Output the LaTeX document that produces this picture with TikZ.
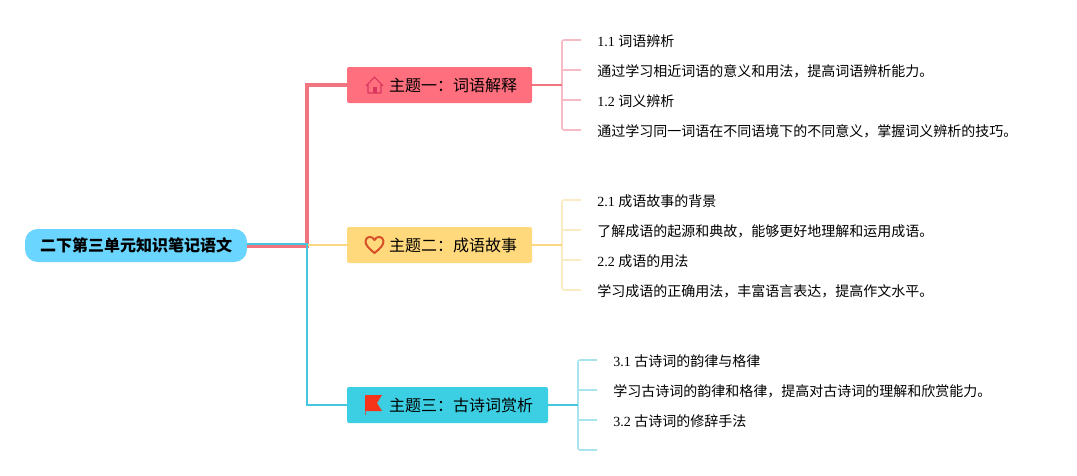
\documentclass[tikz,border=0pt]{standalone}
\usepackage{fontspec}
\setmainfont{Liberation Serif}
\newfontfamily\cjk{Noto Sans CJK SC}
\usetikzlibrary{positioning}
\definecolor{root_fill}{HTML}{6AD5FF}
\definecolor{one_fill}{HTML}{FF6F7D}
\definecolor{one_line}{HTML}{F0757F}
\definecolor{one_soft}{HTML}{F5BAC3}
\definecolor{one_icon}{HTML}{D8355F}
\definecolor{two_fill}{HTML}{FFD97C}
\definecolor{two_line}{HTML}{FBD784}
\definecolor{two_soft}{HTML}{FBEBC4}
\definecolor{two_icon}{HTML}{D8502A}
\definecolor{three_fill}{HTML}{3CCFE3}
\definecolor{three_line}{HTML}{45C5DE}
\definecolor{three_soft}{HTML}{A8E4EE}
\definecolor{three_icon}{HTML}{F5341A}
\definecolor{three_stem}{HTML}{B8605A}
\tikzset{
        % Centre of the map
        node_root/.style={align=center, rounded corners=9.5pt, fill=root_fill, minimum width=166.5pt, minimum height=24.75pt, inner sep=0pt, font=\cjk\bfseries\fontsize{12pt}{14pt}\selectfont},
        % Coloured topics
        node_topic/.style={align=center, rounded corners=1.5pt, minimum height=27pt, inner ysep=0pt, inner xsep=11.25pt, font=\cjk\fontsize{12pt}{14pt}\selectfont},
        % Text lines
        node_leaf/.style={anchor=west, inner sep=0pt, text height=10.5pt, text depth=1.1pt, font=\fontsize{10.5pt}{13pt}\selectfont},
        % Connectors
        line_leaf/.style={line width=1.2pt, rounded corners=1.5pt},
        line_out/.style={line width=1.5pt},
        % Icons of the topics
        icon_house/.pic={
            \draw[one_icon, line width=0.8pt, line join=round] (-8.5,1) -- (0,-8) -- (8.5,1) (-6.5,-1) -- (-6.5,8) -- (6.5,8) -- (6.5,-1);
            \fill[one_icon] (-2,8) -- (-2,2) -- (2,2) -- (2,8) -- cycle;
        },
        icon_heart/.pic={
            \draw[two_icon, line width=1.5pt, line join=round] (0,8) .. controls (-5,4) and (-9.5,0) .. (-9,-4) .. controls (-8.5,-9) and (-2,-9.5) .. (0,-5) .. controls (2,-9.5) and (8.5,-9) .. (9,-4) .. controls (9.5,0) and (5,4) .. (0,8) -- cycle;
        },
        icon_flag/.pic={
            \draw[three_stem, line width=0.8pt] (-8.5,5) -- (-8.5,10);
            \fill[three_icon] (-9,-10) -- (8,-10) -- (3,-2) -- (8,6) -- (-9,6) -- cycle;
        }
}
\begin{document}
\begin{tikzpicture}[x=0.75pt, y=-0.75pt]
    \useasboundingbox (0,0) rectangle (1077,475);
    % Main nodes
    \node[node_root] (root) at (136,245.5) {二下第三单元知识笔记语文};
    \node[node_topic, fill=one_fill, minimum width=138.75pt] (topic_one) at (439.5,85) {\hspace*{20.25pt}主题一：词语解释};
    \node[node_topic, fill=two_fill, minimum width=138.75pt] (topic_two) at (439.5,245) {\hspace*{20.25pt}主题二：成语故事};
    \node[node_topic, fill=three_fill, minimum width=150.75pt] (topic_three) at (447.5,405) {\hspace*{20.25pt}主题三：古诗词赏析};
    \pic at (374.5,85) {icon_house};
    \pic at (374.5,245) {icon_heart};
    \pic at (374,405) {icon_flag};
    % Text of topic one
    \node[node_leaf] (leaf_one_a) at (597,40) {1.1 {\cjk 词语辨析}};
    \node[node_leaf] (leaf_one_b) at (597,70) {\cjk 通过学习相近词语的意义和用法，提高词语辨析能力。};
    \node[node_leaf] (leaf_one_c) at (597,100) {1.2 {\cjk 词义辨析}};
    \node[node_leaf] (leaf_one_d) at (597,130) {\cjk 通过学习同一词语在不同语境下的不同意义，掌握词义辨析的技巧。};
    % Text of topic two
    \node[node_leaf] (leaf_two_a) at (597,200) {2.1 {\cjk 成语故事的背景}};
    \node[node_leaf] (leaf_two_b) at (597,230) {\cjk 了解成语的起源和典故，能够更好地理解和运用成语。};
    \node[node_leaf] (leaf_two_c) at (597,260) {2.2 {\cjk 成语的用法}};
    \node[node_leaf] (leaf_two_d) at (597,290) {\cjk 学习成语的正确用法，丰富语言表达，提高作文水平。};
    % Text of topic three
    \node[node_leaf] (leaf_three_a) at (613,360) {3.1 {\cjk 古诗词的韵律与格律}};
    \node[node_leaf] (leaf_three_b) at (613,390) {\cjk 学习古诗词的韵律和格律，提高对古诗词的理解和欣赏能力。};
    \node[node_leaf] (leaf_three_c) at (613,420) {3.2 {\cjk 古诗词的修辞手法}};
    \coordinate (leaf_three_d) at (597,450);
    % Junctions
    \coordinate (main_fork) at (307,245.5);
    \coordinate (fork_one) at (562,85);
    \coordinate (fork_two) at (562,245);
    \coordinate (fork_three) at (578,405);
    % From the centre to the topics
    \draw[one_line, line width=3.2pt] (root.east) -- (main_fork) |- (topic_one.west);
    \draw[two_line, line width=1.6pt] (main_fork) |- (topic_two.west);
    \draw[three_line, line width=1.6pt] ([yshift=0.9pt]root.east) -- ([yshift=0.9pt]main_fork) -- (main_fork) |- (topic_three.west);
    % From topic one
    \draw[one_soft, line_leaf, shorten >=12pt] (fork_one) |- (leaf_one_a.west);
    \draw[one_soft, line_leaf, shorten >=12pt] (fork_one) |- (leaf_one_b.west);
    \draw[one_soft, line_leaf, shorten >=12pt] (fork_one) |- (leaf_one_c.west);
    \draw[one_soft, line_leaf, shorten >=12pt] (fork_one) |- (leaf_one_d.west);
    \draw[one_line, line_out] (topic_one.east) -- (fork_one);
    % From topic two
    \draw[two_soft, line_leaf, shorten >=12pt] (fork_two) |- (leaf_two_a.west);
    \draw[two_soft, line_leaf, shorten >=12pt] (fork_two) |- (leaf_two_b.west);
    \draw[two_soft, line_leaf, shorten >=12pt] (fork_two) |- (leaf_two_c.west);
    \draw[two_soft, line_leaf, shorten >=12pt] (fork_two) |- (leaf_two_d.west);
    \draw[two_line, line_out] (topic_two.east) -- (fork_two);
    % From topic three
    \draw[three_soft, line_leaf, shorten >=12pt] (fork_three) |- (leaf_three_a.west);
    \draw[three_soft, line_leaf, shorten >=12pt] (fork_three) |- (leaf_three_b.west);
    \draw[three_soft, line_leaf, shorten >=12pt] (fork_three) |- (leaf_three_c.west);
    \draw[three_soft, line_leaf] (fork_three) |- (leaf_three_d);
    \draw[three_line, line_out] (topic_three.east) -- (fork_three);
\end{tikzpicture}
\end{document}
